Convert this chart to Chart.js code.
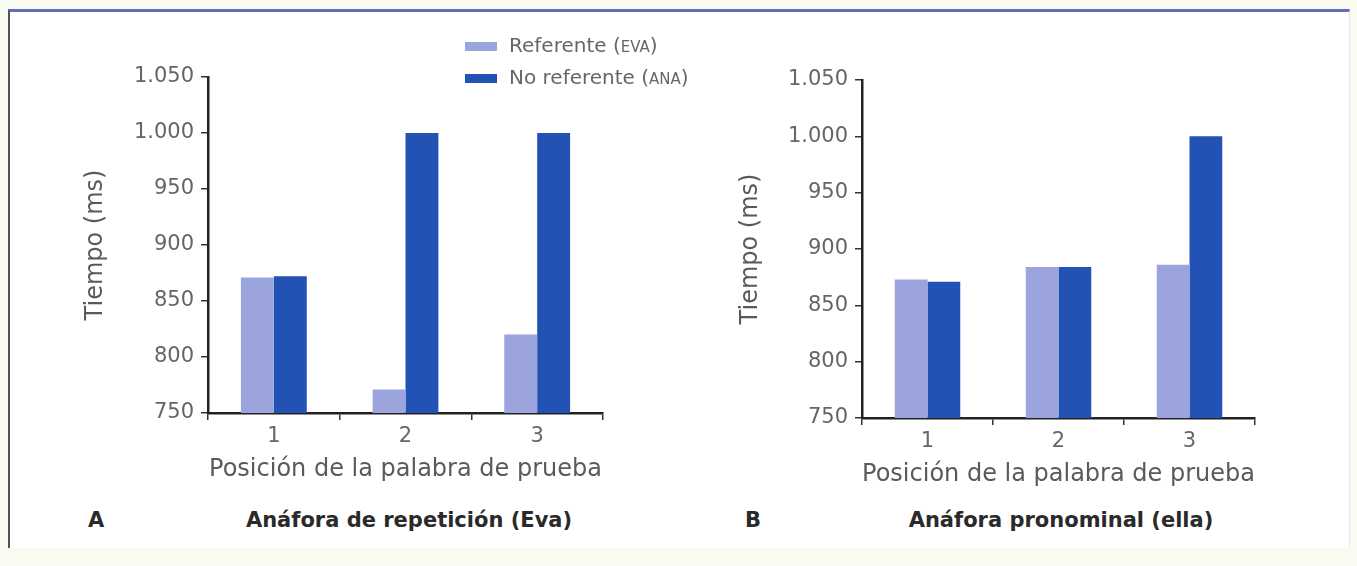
<!DOCTYPE html>
<html>
<head>
<meta charset="utf-8">
<script src="https://cdn.jsdelivr.net/npm/chart.js@4.4.1/dist/chart.umd.min.js"></script>
<style>
  html, body { margin: 0; padding: 0; }
  body { width: 1357px; height: 566px; background: #f9fbf0; position: relative; overflow: hidden; font-family: "DejaVu Sans", sans-serif; }
  #frame { position: absolute; left: 8px; top: 9px; width: 1339px; height: 536px; background: #ffffff;
           border-left: 2px solid #4f5560; border-top: 3px solid #6170b2; border-right: 1px solid #e3ebee; }
  .cv { position: absolute; }
  #legend { position: absolute; left: 465px; top: 30px; font-size: 20px; color: #666; line-height: 30px; }
  #legend .row { display: flex; align-items: center; white-space: nowrap; }
  #legend .sw { width: 32px; height: 9px; margin-right: 12px; }
  #legend .sc { font-size: 15px; }
  .panel { position: absolute; top: 508px; font-weight: bold; font-size: 21px; color: #2a2a2a; white-space: nowrap; }
  .ptitle { position: absolute; top: 508px; font-weight: bold; font-size: 21px; color: #2a2a2a; white-space: nowrap; transform: translateX(-50%); }
</style>
</head>
<body>
<div id="frame"></div>
<canvas id="c1" class="cv" width="580" height="450" style="left:40px;top:50px;width:580px;height:450px;"></canvas>
<canvas id="c2" class="cv" width="575" height="455" style="left:700px;top:50px;width:575px;height:455px;"></canvas>
<div id="legend"></div>
<div class="panel" style="left:88px;">A</div>
<div class="ptitle" id="t1" style="left:409px;"></div>
<div class="panel" style="left:745px;">B</div>
<div class="ptitle" id="t2" style="left:1061px;"></div>
<script>
// ---- data ----
const categories = ['1', '2', '3'];
const seriesNames = ['Referente (EVA)', 'No referente (ANA)'];
const repeticionReferente = [871, 771, 820];
const repeticionNoReferente = [872, 1000, 1000];
const pronominalReferente = [873, 884, 886];
const pronominalNoReferente = [871, 884, 1000];
const yTickValues = [750, 800, 850, 900, 950, 1000, 1050];
const panelTitles = ['Anáfora de repetición (Eva)', 'Anáfora pronominal (ella)'];
const yAxisTitle = 'Tiempo (ms)';
const xAxisTitle = 'Posición de la palabra de prueba';

const colors = ['#9ba4dd', '#2352b5'];

function fmt(v) {
  if (v >= 1000) return Math.floor(v / 1000) + '.' + String(v % 1000).padStart(3, '0');
  return String(v);
}

function makeChart(id, refVals, noRefVals, yWidth, xHeight, padTop, padRight, yTitlePad) {
  return new Chart(document.getElementById(id), {
    type: 'bar',
    data: {
      labels: categories,
      datasets: [
        { label: seriesNames[0], data: refVals, backgroundColor: colors[0], borderWidth: 0,
          barPercentage: 1.0, categoryPercentage: 0.5 },
        { label: seriesNames[1], data: noRefVals, backgroundColor: colors[1], borderWidth: 0,
          barPercentage: 1.0, categoryPercentage: 0.5 }
      ]
    },
    options: {
      responsive: false,
      animation: false,
      events: [],
      layout: { padding: { top: padTop, right: padRight, left: 0, bottom: 0 } },
      plugins: { legend: { display: false }, tooltip: { enabled: false }, title: { display: false } },
      scales: {
        x: {
          grid: { display: true, drawOnChartArea: false, offset: true, tickLength: 7, color: '#333', lineWidth: 1.5 },
          border: { display: true, color: '#222', width: 2.5 },
          ticks: { color: '#666', font: { family: 'DejaVu Sans', size: 21 }, padding: 4 },
          title: { display: true, text: xAxisTitle, color: '#5a5a5a', font: { family: 'DejaVu Sans', size: 24 }, padding: { top: 0, bottom: 16 } },
          afterFit: s => { s.height = xHeight; }
        },
        y: {
          min: 750, max: 1050,
          afterBuildTicks: s => { s.ticks = yTickValues.map(v => ({ value: v })); },
          grid: { display: true, drawOnChartArea: false, tickLength: 7, color: '#333', lineWidth: 1.5 },
          border: { display: true, color: '#222', width: 2.5 },
          ticks: { color: '#666', font: { family: 'DejaVu Sans', size: 21 }, padding: 7, callback: v => fmt(v) },
          title: { display: true, text: yAxisTitle, color: '#5a5a5a', font: { family: 'DejaVu Sans', size: 24 }, padding: { top: yTitlePad, bottom: 0 } },
          afterFit: s => { s.width = yWidth; }
        }
      }
    }
  });
}

const ch1 = makeChart('c1', repeticionReferente, repeticionNoReferente, 168, 87, 27, 17, 41);
const ch2 = makeChart('c2', pronominalReferente, pronominalNoReferente, 162, 87, 30, 20, 36);

// legend built from the chart's datasets
const lg = document.getElementById('legend');
ch1.data.datasets.forEach(ds => {
  const row = document.createElement('div');
  row.className = 'row';
  const sw = document.createElement('div');
  sw.className = 'sw';
  sw.style.background = ds.backgroundColor;
  const m = ds.label.match(/^(.*)\((.*)\)$/);
  const txt = document.createElement('span');
  if (m) {
    txt.appendChild(document.createTextNode(m[1] + '('));
    const sc = document.createElement('span');
    sc.className = 'sc';
    sc.textContent = m[2];
    txt.appendChild(sc);
    txt.appendChild(document.createTextNode(')'));
  } else {
    txt.textContent = ds.label;
  }
  row.appendChild(sw);
  row.appendChild(txt);
  lg.appendChild(row);
});
document.getElementById('t1').textContent = panelTitles[0];
document.getElementById('t2').textContent = panelTitles[1];
</script>
</body>
</html>
